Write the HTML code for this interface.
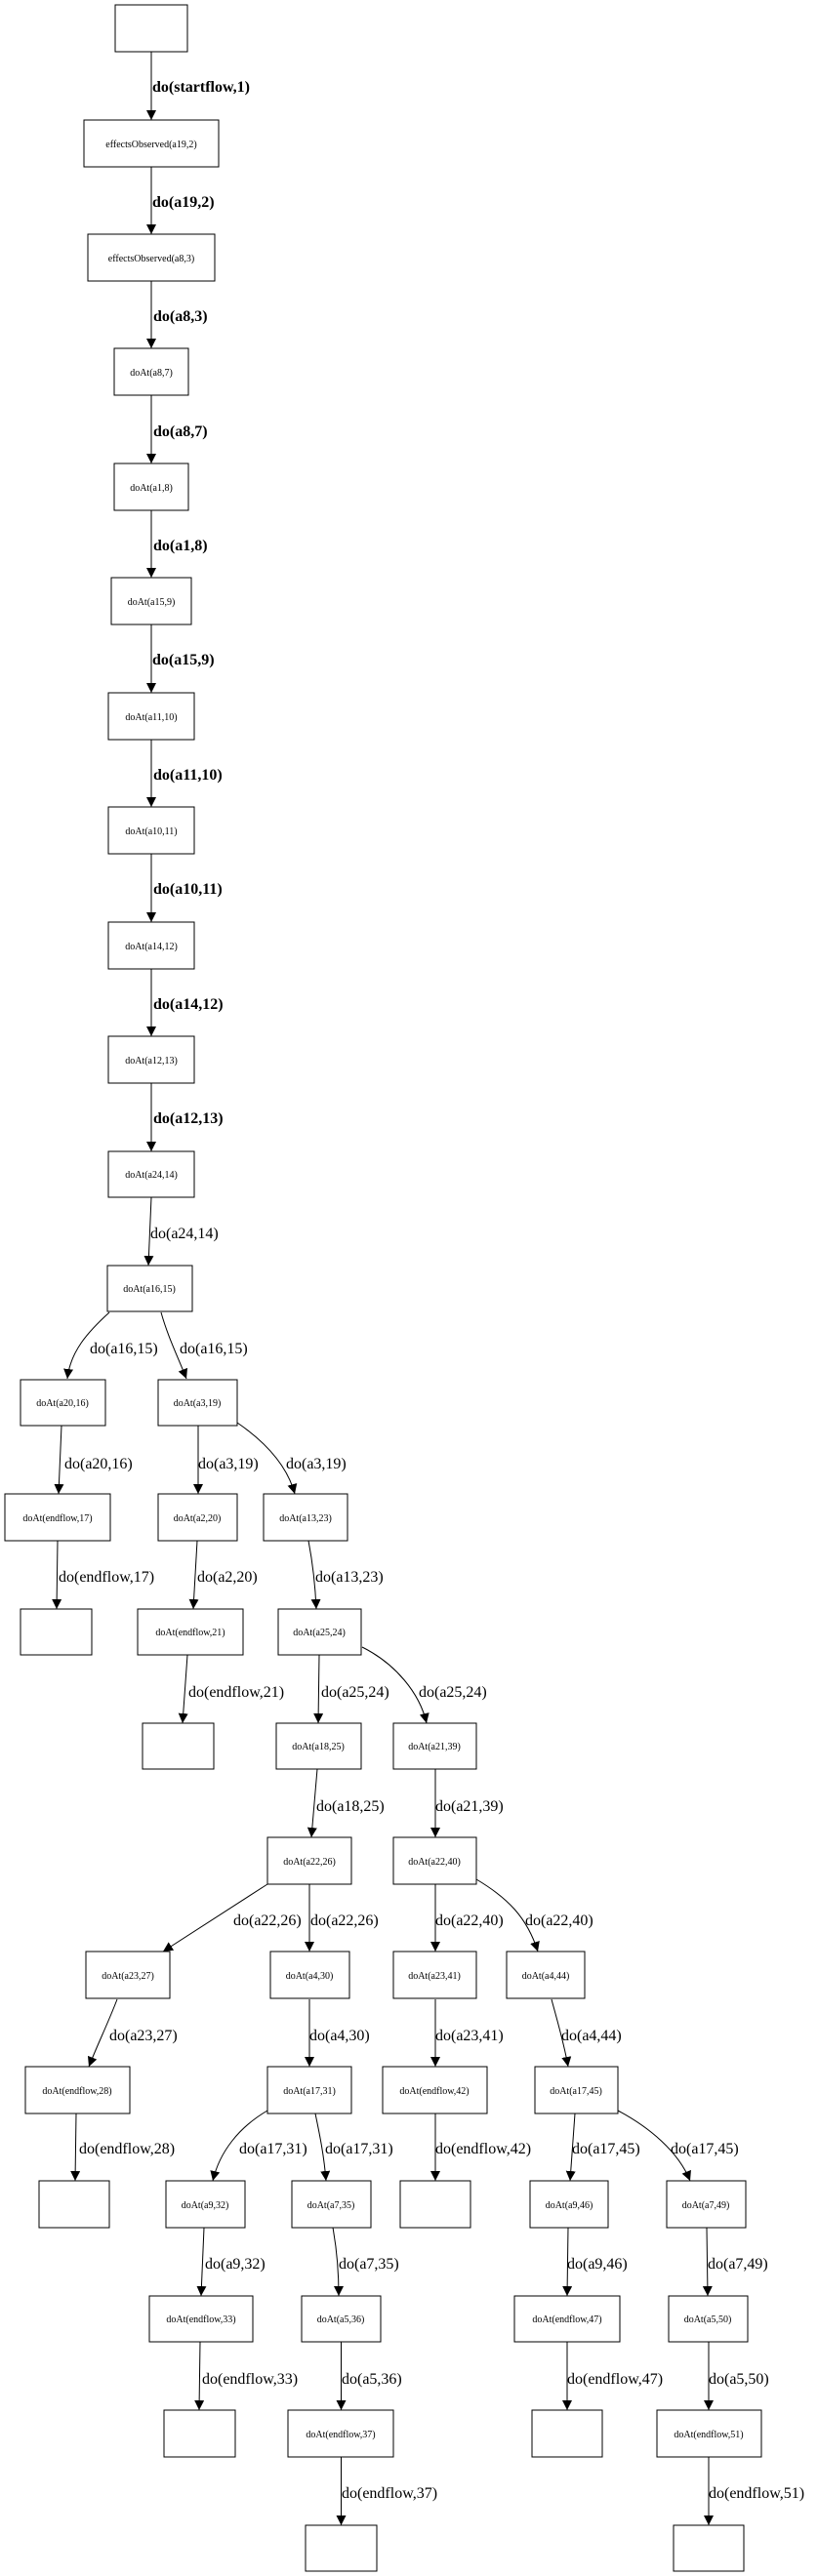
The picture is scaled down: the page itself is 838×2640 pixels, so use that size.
<!DOCTYPE html>
<html><head><meta charset="utf-8"><style>
html,body{margin:0;padding:0;background:#fff}
svg{display:block}
.n{fill:#fff;stroke:#000;stroke-width:1}
.e{fill:none;stroke:#000;stroke-width:1}
.t{font-family:"Liberation Serif",serif;font-size:10px;text-anchor:middle}
.l{font-family:"Liberation Serif",serif;font-size:16px}
.b{font-weight:bold}
</style></head><body>
<svg width="838" height="2640" viewBox="0 0 838 2640" xmlns="http://www.w3.org/2000/svg">
<defs><marker id="a" markerWidth="10" markerHeight="12" refX="10" refY="5" orient="auto" markerUnits="userSpaceOnUse"><path d="M0,0 L10,5 L0,10 z" fill="#000"/></marker></defs>

<rect class="n" x="118" y="5" width="74" height="48"/>
<rect class="n" x="86" y="123" width="138" height="48"/><text class="t" x="155" y="151">effectsObserved(a19,2)</text>
<rect class="n" x="90" y="240" width="130" height="48"/><text class="t" x="155" y="268">effectsObserved(a8,3)</text>
<rect class="n" x="117" y="357" width="76" height="48"/><text class="t" x="155" y="385">doAt(a8,7)</text>
<rect class="n" x="117" y="475" width="76" height="48"/><text class="t" x="155" y="503">doAt(a1,8)</text>
<rect class="n" x="114" y="592" width="82" height="48"/><text class="t" x="155" y="620">doAt(a15,9)</text>
<rect class="n" x="111" y="710" width="88" height="48"/><text class="t" x="155" y="738">doAt(a11,10)</text>
<rect class="n" x="111" y="827" width="88" height="48"/><text class="t" x="155" y="855">doAt(a10,11)</text>
<rect class="n" x="111" y="945" width="88" height="48"/><text class="t" x="155" y="973">doAt(a14,12)</text>
<rect class="n" x="111" y="1062" width="88" height="48"/><text class="t" x="155" y="1090">doAt(a12,13)</text>
<rect class="n" x="111" y="1180" width="88" height="47"/><text class="t" x="155" y="1207">doAt(a24,14)</text>
<rect class="n" x="110" y="1297" width="87" height="47"/><text class="t" x="153" y="1324">doAt(a16,15)</text>

<path class="e" marker-end="url(#a)" d="M155,53 L155,123"/><text class="l b" x="156" y="94">do(startflow,1)</text>
<path class="e" marker-end="url(#a)" d="M155,171 L155,240"/><text class="l b" x="156" y="212">do(a19,2)</text>
<path class="e" marker-end="url(#a)" d="M155,288 L155,357"/><text class="l b" x="157" y="329">do(a8,3)</text>
<path class="e" marker-end="url(#a)" d="M155,405 L155,475"/><text class="l b" x="157" y="447">do(a8,7)</text>
<path class="e" marker-end="url(#a)" d="M155,523 L155,592"/><text class="l b" x="157" y="564">do(a1,8)</text>
<path class="e" marker-end="url(#a)" d="M155,640 L155,710"/><text class="l b" x="156" y="681">do(a15,9)</text>
<path class="e" marker-end="url(#a)" d="M155,758 L155,827"/><text class="l b" x="157" y="799">do(a11,10)</text>
<path class="e" marker-end="url(#a)" d="M155,875 L155,945"/><text class="l b" x="157" y="916">do(a10,11)</text>
<path class="e" marker-end="url(#a)" d="M155,993 L155,1062"/><text class="l b" x="157" y="1034">do(a14,12)</text>
<path class="e" marker-end="url(#a)" d="M155,1110 L155,1180"/><text class="l b" x="157" y="1151">do(a12,13)</text>
<path class="e" marker-end="url(#a)" d="M155,1227 L152,1297"/><text class="l" x="154" y="1269">do(a24,14)</text>

<rect class="n" x="21" y="1414" width="87" height="47"/><text class="t" x="64" y="1441">doAt(a20,16)</text>
<rect class="n" x="162" y="1414" width="81" height="47"/><text class="t" x="202" y="1441">doAt(a3,19)</text>
<rect class="n" x="5" y="1531" width="108" height="48"/><text class="t" x="59" y="1559">doAt(endflow,17)</text>
<rect class="n" x="162" y="1531" width="81" height="48"/><text class="t" x="202" y="1559">doAt(a2,20)</text>
<rect class="n" x="270" y="1531" width="86" height="48"/><text class="t" x="313" y="1559">doAt(a13,23)</text>
<rect class="n" x="21" y="1649" width="73" height="47"/>
<rect class="n" x="141" y="1649" width="108" height="47"/><text class="t" x="195" y="1676">doAt(endflow,21)</text>
<rect class="n" x="285" y="1649" width="85" height="47"/><text class="t" x="327" y="1676">doAt(a25,24)</text>
<rect class="n" x="146" y="1766" width="73" height="47"/>
<rect class="n" x="283" y="1766" width="87" height="47"/><text class="t" x="326" y="1793">doAt(a18,25)</text>
<rect class="n" x="403" y="1766" width="85" height="47"/><text class="t" x="445" y="1793">doAt(a21,39)</text>
<rect class="n" x="274" y="1883" width="86" height="48"/><text class="t" x="317" y="1911">doAt(a22,26)</text>
<rect class="n" x="403" y="1883" width="85" height="48"/><text class="t" x="445" y="1911">doAt(a22,40)</text>
<rect class="n" x="88" y="2000" width="86" height="48"/><text class="t" x="131" y="2028">doAt(a23,27)</text>
<rect class="n" x="277" y="2000" width="81" height="48"/><text class="t" x="317" y="2028">doAt(a4,30)</text>
<rect class="n" x="403" y="2000" width="85" height="48"/><text class="t" x="445" y="2028">doAt(a23,41)</text>
<rect class="n" x="519" y="2000" width="80" height="48"/><text class="t" x="559" y="2028">doAt(a4,44)</text>
<rect class="n" x="26" y="2118" width="107" height="48"/><text class="t" x="79" y="2146">doAt(endflow,28)</text>
<rect class="n" x="274" y="2118" width="86" height="48"/><text class="t" x="317" y="2146">doAt(a17,31)</text>
<rect class="n" x="392" y="2118" width="107" height="48"/><text class="t" x="445" y="2146">doAt(endflow,42)</text>
<rect class="n" x="548" y="2118" width="85" height="48"/><text class="t" x="590" y="2146">doAt(a17,45)</text>
<rect class="n" x="40" y="2235" width="72" height="48"/>
<rect class="n" x="170" y="2235" width="81" height="48"/><text class="t" x="210" y="2263">doAt(a9,32)</text>
<rect class="n" x="299" y="2235" width="81" height="48"/><text class="t" x="339" y="2263">doAt(a7,35)</text>
<rect class="n" x="410" y="2235" width="72" height="48"/>
<rect class="n" x="543" y="2235" width="80" height="48"/><text class="t" x="583" y="2263">doAt(a9,46)</text>
<rect class="n" x="683" y="2235" width="81" height="48"/><text class="t" x="723" y="2263">doAt(a7,49)</text>
<rect class="n" x="153" y="2353" width="106" height="47"/><text class="t" x="206" y="2380">doAt(endflow,33)</text>
<rect class="n" x="309" y="2353" width="81" height="47"/><text class="t" x="349" y="2380">doAt(a5,36)</text>
<rect class="n" x="527" y="2353" width="108" height="47"/><text class="t" x="581" y="2380">doAt(endflow,47)</text>
<rect class="n" x="685" y="2353" width="81" height="47"/><text class="t" x="725" y="2380">doAt(a5,50)</text>
<rect class="n" x="168" y="2470" width="73" height="48"/>
<rect class="n" x="295" y="2470" width="108" height="48"/><text class="t" x="349" y="2498">doAt(endflow,37)</text>
<rect class="n" x="545" y="2470" width="72" height="48"/>
<rect class="n" x="673" y="2470" width="107" height="48"/><text class="t" x="726" y="2498">doAt(endflow,51)</text>
<rect class="n" x="313" y="2588" width="73" height="47"/>
<rect class="n" x="690" y="2588" width="72" height="47"/>

<path class="e" marker-end="url(#a)" d="M112,1345 C90,1365 72,1385 69,1413"/><text class="l" x="92" y="1387">do(a16,15)</text>
<path class="e" marker-end="url(#a)" d="M165,1345 C172,1370 182,1390 191,1413"/><text class="l" x="184" y="1387">do(a16,15)</text>
<path class="e" marker-end="url(#a)" d="M63,1461 L60,1531"/><text class="l" x="66" y="1505">do(a20,16)</text>
<path class="e" marker-end="url(#a)" d="M203,1461 L203,1531"/><text class="l" x="203" y="1505">do(a3,19)</text>
<path class="e" marker-end="url(#a)" d="M243,1458 C275,1480 295,1505 302,1531"/><text class="l" x="293" y="1505">do(a3,19)</text>
<path class="e" marker-end="url(#a)" d="M59,1579 L58,1649"/><text class="l" x="60" y="1621">do(endflow,17)</text>
<path class="e" marker-end="url(#a)" d="M202,1579 L198,1649"/><text class="l" x="202" y="1621">do(a2,20)</text>
<path class="e" marker-end="url(#a)" d="M316,1579 C320,1600 323,1625 324,1649"/><text class="l" x="323" y="1621">do(a13,23)</text>
<path class="e" marker-end="url(#a)" d="M192,1696 L187,1766"/><text class="l" x="193" y="1739">do(endflow,21)</text>
<path class="e" marker-end="url(#a)" d="M327,1696 L326,1766"/><text class="l" x="329" y="1739">do(a25,24)</text>
<path class="e" marker-end="url(#a)" d="M371,1688 C405,1705 430,1735 437,1766"/><text class="l" x="429" y="1739">do(a25,24)</text>
<path class="e" marker-end="url(#a)" d="M325,1813 L319,1883"/><text class="l" x="324" y="1856">do(a18,25)</text>
<path class="e" marker-end="url(#a)" d="M446,1813 L446,1883"/><text class="l" x="446" y="1856">do(a21,39)</text>
<path class="e" marker-end="url(#a)" d="M274,1931 L167,2000"/><text class="l" x="239" y="1973">do(a22,26)</text>
<path class="e" marker-end="url(#a)" d="M317,1931 L317,2000"/><text class="l" x="318" y="1973">do(a22,26)</text>
<path class="e" marker-end="url(#a)" d="M446,1931 L446,2000"/><text class="l" x="446" y="1973">do(a22,40)</text>
<path class="e" marker-end="url(#a)" d="M488,1926 C520,1945 540,1965 551,2000"/><text class="l" x="538" y="1973">do(a22,40)</text>
<path class="e" marker-end="url(#a)" d="M120,2049 C110,2075 100,2095 91,2118"/><text class="l" x="112" y="2091">do(a23,27)</text>
<path class="e" marker-end="url(#a)" d="M317,2049 L317,2118"/><text class="l" x="317" y="2091">do(a4,30)</text>
<path class="e" marker-end="url(#a)" d="M446,2049 L446,2118"/><text class="l" x="446" y="2091">do(a23,41)</text>
<path class="e" marker-end="url(#a)" d="M565,2049 C572,2075 578,2095 582,2118"/><text class="l" x="575" y="2091">do(a4,44)</text>
<path class="e" marker-end="url(#a)" d="M78,2166 L77,2235"/><text class="l" x="81" y="2207">do(endflow,28)</text>
<path class="e" marker-end="url(#a)" d="M274,2163 C245,2180 225,2205 218,2235"/><text class="l" x="245" y="2207">do(a17,31)</text>
<path class="e" marker-end="url(#a)" d="M323,2166 C328,2190 332,2210 334,2235"/><text class="l" x="333" y="2207">do(a17,31)</text>
<path class="e" marker-end="url(#a)" d="M446,2166 L446,2235"/><text class="l" x="446" y="2207">do(endflow,42)</text>
<path class="e" marker-end="url(#a)" d="M589,2166 L584,2235"/><text class="l" x="586" y="2207">do(a17,45)</text>
<path class="e" marker-end="url(#a)" d="M633,2163 C665,2180 695,2205 707,2235"/><text class="l" x="687" y="2207">do(a17,45)</text>
<path class="e" marker-end="url(#a)" d="M209,2283 L206,2353"/><text class="l" x="210" y="2325">do(a9,32)</text>
<path class="e" marker-end="url(#a)" d="M341,2283 C345,2305 347,2330 347,2353"/><text class="l" x="347" y="2325">do(a7,35)</text>
<path class="e" marker-end="url(#a)" d="M582,2283 L581,2353"/><text class="l" x="581" y="2325">do(a9,46)</text>
<path class="e" marker-end="url(#a)" d="M724,2283 L725,2353"/><text class="l" x="725" y="2325">do(a7,49)</text>
<path class="e" marker-end="url(#a)" d="M205,2400 L204,2470"/><text class="l" x="207" y="2443">do(endflow,33)</text>
<path class="e" marker-end="url(#a)" d="M349.5,2400 L349.5,2470"/><text class="l" x="350" y="2443">do(a5,36)</text>
<path class="e" marker-end="url(#a)" d="M581,2400 L581,2470"/><text class="l" x="581" y="2443">do(endflow,47)</text>
<path class="e" marker-end="url(#a)" d="M726,2400 L726,2470"/><text class="l" x="726" y="2443">do(a5,50)</text>
<path class="e" marker-end="url(#a)" d="M349.5,2518 L349.5,2588"/><text class="l" x="350" y="2560">do(endflow,37)</text>
<path class="e" marker-end="url(#a)" d="M726,2518 L726,2588"/><text class="l" x="726" y="2560">do(endflow,51)</text>
</svg>
</body></html>
